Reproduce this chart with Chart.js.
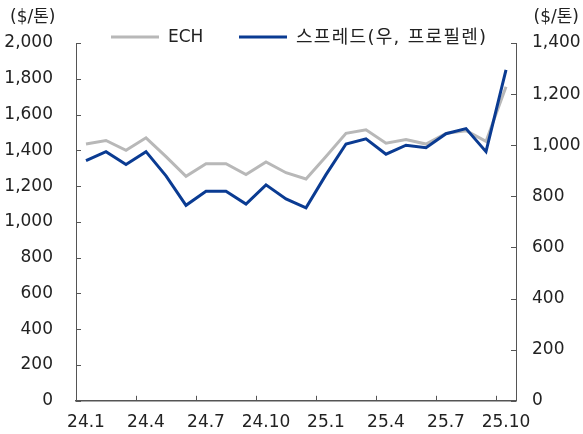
<!DOCTYPE html>
<html>
<head>
<meta charset="utf-8">
<script src="https://cdn.jsdelivr.net/npm/chart.js@4"></script>
<style>
  body { margin: 0; background: #fff; }
  #wrap { width: 583px; height: 434px; }
</style>
</head>
<body>
<div id="wrap"><canvas id="echChart" width="583" height="434"></canvas></div>
<script>
// monthly categories 24.1 ~ 25.10
const months = ['24.1', '24.2', '24.3', '24.4', '24.5', '24.6', '24.7', '24.8', '24.9', '24.10', '24.11', '24.12',
                '25.1', '25.2', '25.3', '25.4', '25.5', '25.6', '25.7', '25.8', '25.9', '25.10'];

// ECH price ($/톤, left axis)
const echPrice = [1435, 1455, 1400, 1470, 1365, 1255, 1325, 1325, 1265, 1335, 1275, 1240,
                  1365, 1495, 1515, 1440, 1460, 1435, 1495, 1510, 1450, 1755];

// ECH - propylene spread ($/톤, right axis)
const spread = [940, 975, 925, 975, 880, 765, 820, 820, 770, 845, 790, 755,
                885, 1005, 1025, 965, 1000, 990, 1045, 1065, 975, 1295];

const leftTicks = [0, 2000, 200];   // min, max, step
const rightTicks = [0, 1400, 200];

const seriesNames = ['ECH', '스프레드(우, 프로필렌)'];
const unitLabel = '($/톤)';

const FONT = '17px "DejaVu Sans", "Noto Sans CJK KR", sans-serif';
const LEGEND_KR_FONT = '18px "DejaVu Sans", "Noto Sans CJK KR", sans-serif';
const TEXT_COLOR = '#222';
const AXIS_COLOR = '#555';

// inward tick marks + legend + unit labels
const decorPlugin = {
    id: 'decor',
    afterDraw(chart) {
        const ctx = chart.ctx;
        const x = chart.scales.x, yl = chart.scales.y, yr = chart.scales.y1;
        const area = chart.chartArea;
        ctx.save();
        ctx.strokeStyle = AXIS_COLOR;
        ctx.lineWidth = 1;

        // x ticks sit on the left edge of each labelled month
        const half = (x.getPixelForValue(1) - x.getPixelForValue(0)) / 2;
        months.forEach((m, i) => {
            if (i % 3 !== 0 || i === 0) return;
            const px = Math.round(x.getPixelForValue(i) - half) + 0.5;
            ctx.beginPath();
            ctx.moveTo(px, area.bottom);
            ctx.lineTo(px, area.bottom - 5);
            ctx.stroke();
        });
        yl.ticks.forEach(t => {
            const py = Math.round(yl.getPixelForValue(t.value)) + 0.5;
            ctx.beginPath();
            ctx.moveTo(area.left, py);
            ctx.lineTo(area.left + 5, py);
            ctx.stroke();
        });
        yr.ticks.forEach(t => {
            const py = Math.round(yr.getPixelForValue(t.value)) + 0.5;
            ctx.beginPath();
            ctx.moveTo(area.right, py);
            ctx.lineTo(area.right - 5, py);
            ctx.stroke();
        });

        // unit labels
        ctx.font = FONT;
        ctx.fillStyle = TEXT_COLOR;
        ctx.textBaseline = 'middle';
        ctx.textAlign = 'left';
        ctx.fillText(unitLabel, 10, 18);
        ctx.textAlign = 'right';
        ctx.fillText(unitLabel, 579, 18);

        // legend
        const legendX = [111, 239];
        const legendY = 37;
        ctx.textAlign = 'left';
        chart.data.datasets.forEach((ds, i) => {
            ctx.strokeStyle = ds.borderColor;
            ctx.lineWidth = ds.borderWidth;
            ctx.beginPath();
            ctx.moveTo(legendX[i], legendY);
            ctx.lineTo(legendX[i] + 48, legendY);
            ctx.stroke();
            ctx.fillStyle = TEXT_COLOR;
            ctx.font = i === 0 ? FONT : LEGEND_KR_FONT;
            if (i === 1) ctx.letterSpacing = '1.3px';
            ctx.fillText(ds.label, legendX[i] + 57, legendY + 1);
            ctx.letterSpacing = '0px';
        });
        ctx.restore();
    }
};

const tickFont = { family: '"DejaVu Sans", sans-serif', size: 17 };

const chart = new Chart(document.getElementById('echChart').getContext('2d'), {
    type: 'line',
    data: {
        labels: months,
        datasets: [{
            label: seriesNames[0],
            data: echPrice,
            yAxisID: 'y',
            borderColor: '#b8b8b8',
            borderWidth: 3,
            pointRadius: 0,
            tension: 0,
            order: 2
        }, {
            label: seriesNames[1],
            data: spread,
            yAxisID: 'y1',
            borderColor: '#0a3b92',
            borderWidth: 3,
            pointRadius: 0,
            tension: 0,
            order: 1
        }]
    },
    options: {
        responsive: false,
        animation: false,
        layout: { padding: { top: 43, left: 0, right: 0, bottom: 0 } },
        plugins: {
            legend: { display: false },
            tooltip: { enabled: false }
        },
        scales: {
            x: {
                offset: true,
                grid: { display: false, offset: true, drawTicks: false, tickLength: 0 },
                border: { display: true, color: AXIS_COLOR, width: 1.5 },
                ticks: {
                    autoSkip: false,
                    maxRotation: 0,
                    padding: 12,
                    color: TEXT_COLOR,
                    font: tickFont,
                    callback: (v, i) => (i % 3 === 0 ? months[i] : null)
                },
                afterFit: s => { s.height = 30; }
            },
            y: {
                position: 'left',
                min: leftTicks[0],
                max: leftTicks[1],
                grid: { display: false, drawTicks: false, tickLength: 0 },
                border: { display: true, color: AXIS_COLOR, width: 1 },
                ticks: {
                    stepSize: leftTicks[2],
                    padding: 23,
                    color: TEXT_COLOR,
                    font: tickFont,
                    callback: v => v.toLocaleString('en-US')
                },
                afterFit: s => { s.width = 76; }
            },
            y1: {
                position: 'right',
                min: rightTicks[0],
                max: rightTicks[1],
                grid: { display: false, drawTicks: false, tickLength: 0 },
                border: { display: true, color: AXIS_COLOR, width: 1 },
                ticks: {
                    stepSize: rightTicks[2],
                    padding: 16,
                    color: TEXT_COLOR,
                    font: tickFont,
                    callback: v => v.toLocaleString('en-US')
                },
                afterFit: s => { s.width = 67; }
            }
        }
    },
    plugins: [decorPlugin]
});
</script>
</body>
</html>
